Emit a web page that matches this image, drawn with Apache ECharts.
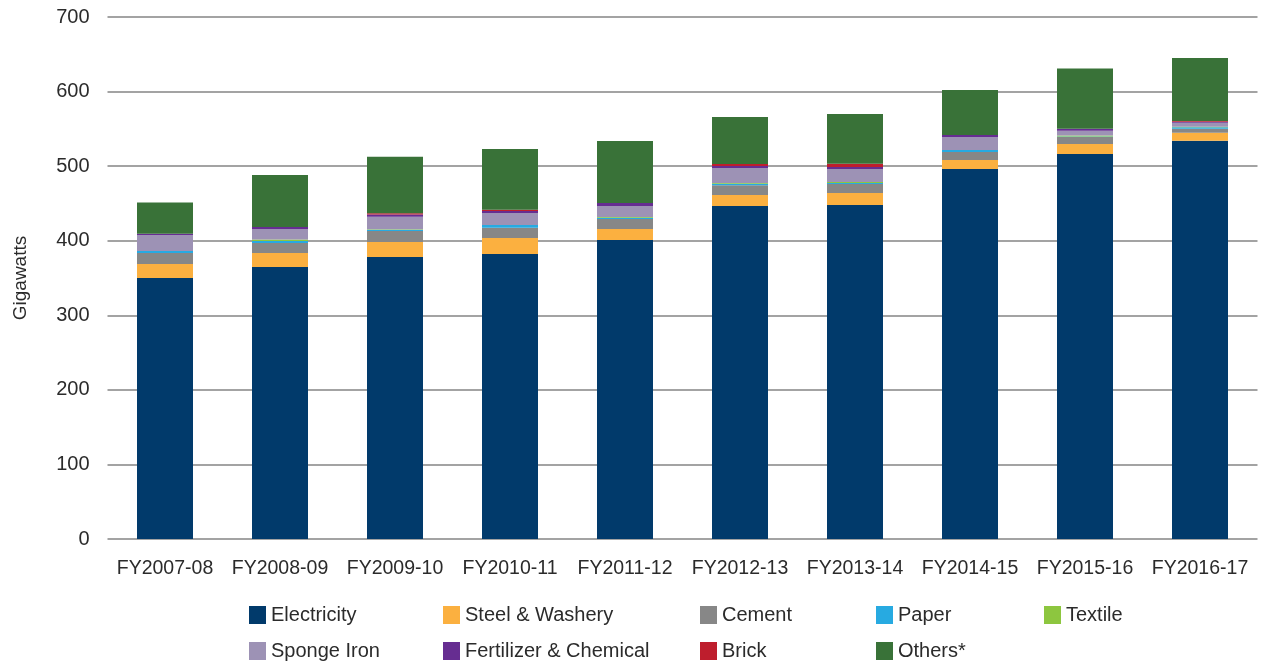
<!DOCTYPE html>
<html>
<head>
<meta charset="utf-8">
<script src="https://cdn.jsdelivr.net/npm/echarts@6/dist/echarts.min.js"></script>
<style>
  html, body { margin: 0; padding: 0; background: #fff; }
  #chart { width: 1270px; height: 664px; }
</style>
</head>
<body>
<div id="chart"></div>
<script>
// Coal consumption by sector, fiscal years (gigawatts)
const years = ['FY2007-08', 'FY2008-09', 'FY2009-10', 'FY2010-11', 'FY2011-12',
               'FY2012-13', 'FY2013-14', 'FY2014-15', 'FY2015-16', 'FY2016-17'];

const electricity = [350, 364.8, 378.2, 382.2, 401, 446.6, 447.9, 496.2, 516.3, 534.1];
const steelWashery = [18.8, 18.8, 20.1, 21.4, 14.7, 14.7, 16.1, 12, 13.4, 10.8];
const cement = [14.7, 13.4, 14.7, 13.9, 13.4, 13, 12.1, 10.7, 9.4, 5.3];
const paper = [2.7, 2.7, 1.8, 3.6, 1.8, 2.2, 1.3, 2.7, 0.5, 1.9];
const textile = [0, 1.8, 0.5, 0, 0.9, 0.9, 1.3, 0, 1.4, 0.8];
const spongeIron = [21.4, 14.3, 17, 16.1, 14.8, 20.1, 17.5, 17.5, 6.6, 5.4];
const fertilizerChemical = [1.8, 2.7, 2.7, 2.8, 4, 2.7, 2.7, 2.7, 2.7, 1.2];
const brick = [0, 0, 1.7, 1.6, 0, 2.7, 4.4, 0, 0, 1.0];
const others = [42, 69.6, 76, 81.4, 83.1, 63, 66.6, 60.3, 80.5, 84.4];

const yTicks = [0, 100, 200, 300, 400, 500, 600, 700];

const seriesDefs = [
  { name: 'Electricity', data: electricity, color: '#013a6b' },
  { name: 'Steel & Washery', data: steelWashery, color: '#fbb040' },
  { name: 'Cement', data: cement, color: '#878787' },
  { name: 'Paper', data: paper, color: '#27aae1' },
  { name: 'Textile', data: textile, color: '#8dc63f' },
  { name: 'Sponge Iron', data: spongeIron, color: '#9d92b5' },
  { name: 'Fertilizer & Chemical', data: fertilizerChemical, color: '#662d91' },
  { name: 'Brick', data: brick, color: '#be1e2d' },
  { name: 'Others*', data: others, color: '#397238' }
];

const FONT = '"Liberation Sans", Arial, Helvetica, sans-serif';
const TEXT = '#2b2b2b';

// legend grid: two rows, five columns
const legendColumnsX = [249, 443, 700, 876, 1044];
const legendRowsY = [605, 641];
const legendSlots = [
  ['Electricity', 0, 0], ['Steel & Washery', 1, 0], ['Cement', 2, 0], ['Paper', 3, 0], ['Textile', 4, 0],
  ['Sponge Iron', 0, 1], ['Fertilizer & Chemical', 1, 1], ['Brick', 2, 1], ['Others*', 3, 1]
];

const chart = echarts.init(document.getElementById('chart'), null, { renderer: 'canvas' });

chart.setOption({
  animation: false,
  backgroundColor: '#ffffff',
  grid: { left: 107.5, right: 12.5, top: 17, bottom: 125 },
  legend: legendSlots.map(([name, col, row]) => ({
    left: legendColumnsX[col],
    top: legendRowsY[row],
    itemWidth: 17,
    itemHeight: 18,
    padding: 0,
    icon: 'rect',
    selectedMode: false,
    data: [name],
    textStyle: { fontFamily: FONT, fontSize: 20, color: TEXT }
  })),
  xAxis: {
    type: 'category',
    data: years,
    axisLine: { show: false },
    axisTick: { show: false },
    axisLabel: { interval: 0, margin: 20, fontFamily: FONT, fontSize: 19.5, color: TEXT }
  },
  yAxis: {
    type: 'value',
    min: yTicks[0],
    max: yTicks[yTicks.length - 1],
    interval: 100,
    name: 'Gigawatts',
    nameLocation: 'middle',
    nameGap: 77,
    nameTextStyle: { fontFamily: FONT, fontSize: 19, color: TEXT },
    axisLine: { show: false },
    axisTick: { show: false },
    axisLabel: { margin: 18, fontFamily: FONT, fontSize: 20, color: TEXT },
    splitLine: { lineStyle: { color: '#a3a3a3', width: 2 } }
  },
  series: seriesDefs.map(s => ({
    name: s.name,
    type: 'bar',
    stack: 'total',
    barWidth: 56,
    data: s.data,
    itemStyle: { color: s.color },
    emphasis: { disabled: true }
  }))
});
</script>
</body>
</html>
